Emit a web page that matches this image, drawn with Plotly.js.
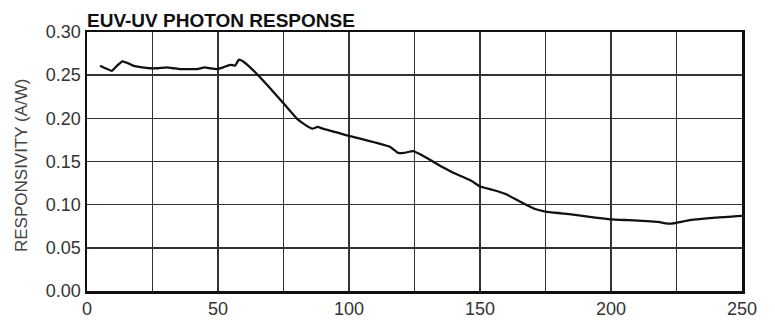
<!DOCTYPE html>
<html>
<head>
<meta charset="utf-8">
<script src="https://cdn.plot.ly/plotly-3.0.1.min.js"></script>
<style>html,body{margin:0;padding:0;background:#fff}#chart{width:775px;height:320px}</style>
</head>
<body>
<div id="chart"></div>
<script>
const wavelength = [5, 7, 9.5, 11.5, 13.5, 15.5, 17.6, 21, 24, 27, 30.5, 33, 35.5, 39, 42, 45, 47, 49.5, 52, 54.6, 56.5, 58, 60, 64, 68.7, 74.8, 80, 83, 86, 88, 90, 95, 99.6, 105, 110, 115.6, 118.7, 121, 124.5, 128, 132, 136, 139.8, 143.6, 147, 150, 155, 160, 165, 171, 175, 181, 187, 194, 200, 207, 213.7, 218, 221.7, 225, 230, 240, 250];
const responsivity = [0.261, 0.258, 0.255, 0.261, 0.266, 0.264, 0.261, 0.259, 0.258, 0.258, 0.259, 0.258, 0.257, 0.257, 0.257, 0.259, 0.258, 0.257, 0.259, 0.262, 0.261, 0.268, 0.265, 0.254, 0.239, 0.218, 0.200, 0.193, 0.188, 0.190, 0.188, 0.184, 0.180, 0.176, 0.172, 0.167, 0.160, 0.160, 0.162, 0.157, 0.150, 0.143, 0.137, 0.132, 0.127, 0.121, 0.117, 0.112, 0.104, 0.095, 0.092, 0.090, 0.088, 0.085, 0.083, 0.082, 0.081, 0.080, 0.078, 0.079, 0.082, 0.085, 0.087];
const xTickVals = [0, 25, 50, 75, 100, 125, 150, 175, 200, 225, 250];
const xTickText = ['0', '', '50', '', '100', '', '150', '', '200', '', '250'];
const yTickVals = [0, 0.05, 0.10, 0.15, 0.20, 0.25, 0.30];
const chartTitle = 'EUV-UV PHOTON RESPONSE';
const yTitle = 'RESPONSIVITY (A/W)';

const FONT = 'Liberation Sans, Arial, sans-serif';
Plotly.newPlot('chart', [{
  x: wavelength, y: responsivity, type: 'scatter', mode: 'lines',
  line: {color: '#111', width: 2.3, shape: 'spline', smoothing: 0.4},
  hoverinfo: 'skip'
}], {
  width: 775, height: 320,
  margin: {l: 87, r: 33, t: 32, b: 29, pad: 0},
  paper_bgcolor: '#fff', plot_bgcolor: '#fff',
  showlegend: false,
  font: {family: FONT, color: '#333', size: 18},
  title: {text: '<b>' + chartTitle + '</b>', x: 0, xref: 'paper', xanchor: 'left', y: 1, yref: 'paper', yanchor: 'bottom', pad: {b: 5, l: 0},
          font: {family: FONT, size: 19, color: '#111'}},
  xaxis: {range: [0, 250], tickmode: 'array', tickvals: xTickVals, ticktext: xTickText,
          showgrid: true, gridcolor: '#333', gridwidth: 1.4, zeroline: false,
          showline: true, linecolor: '#111', linewidth: 2.5, mirror: true,
          ticks: '', tickfont: {size: 18, color: '#333'}},
  yaxis: {range: [0, 0.30], tickmode: 'array', tickvals: yTickVals, tickformat: '.2f',
          showgrid: true, gridcolor: '#333', gridwidth: 1.4, zeroline: false,
          showline: true, linecolor: '#111', linewidth: 2.5, mirror: true,
          ticks: '', tickfont: {size: 18, color: '#333'}},
  annotations: [{text: yTitle, textangle: -90, xref: 'paper', yref: 'paper',
                 x: (21.5 - 87) / 655, y: (291 - 165.5) / 259, xanchor: 'center', yanchor: 'middle',
                 showarrow: false, font: {family: FONT, size: 17, color: '#444'}}]
}, {displayModeBar: false, staticPlot: true});
</script>
</body>
</html>
